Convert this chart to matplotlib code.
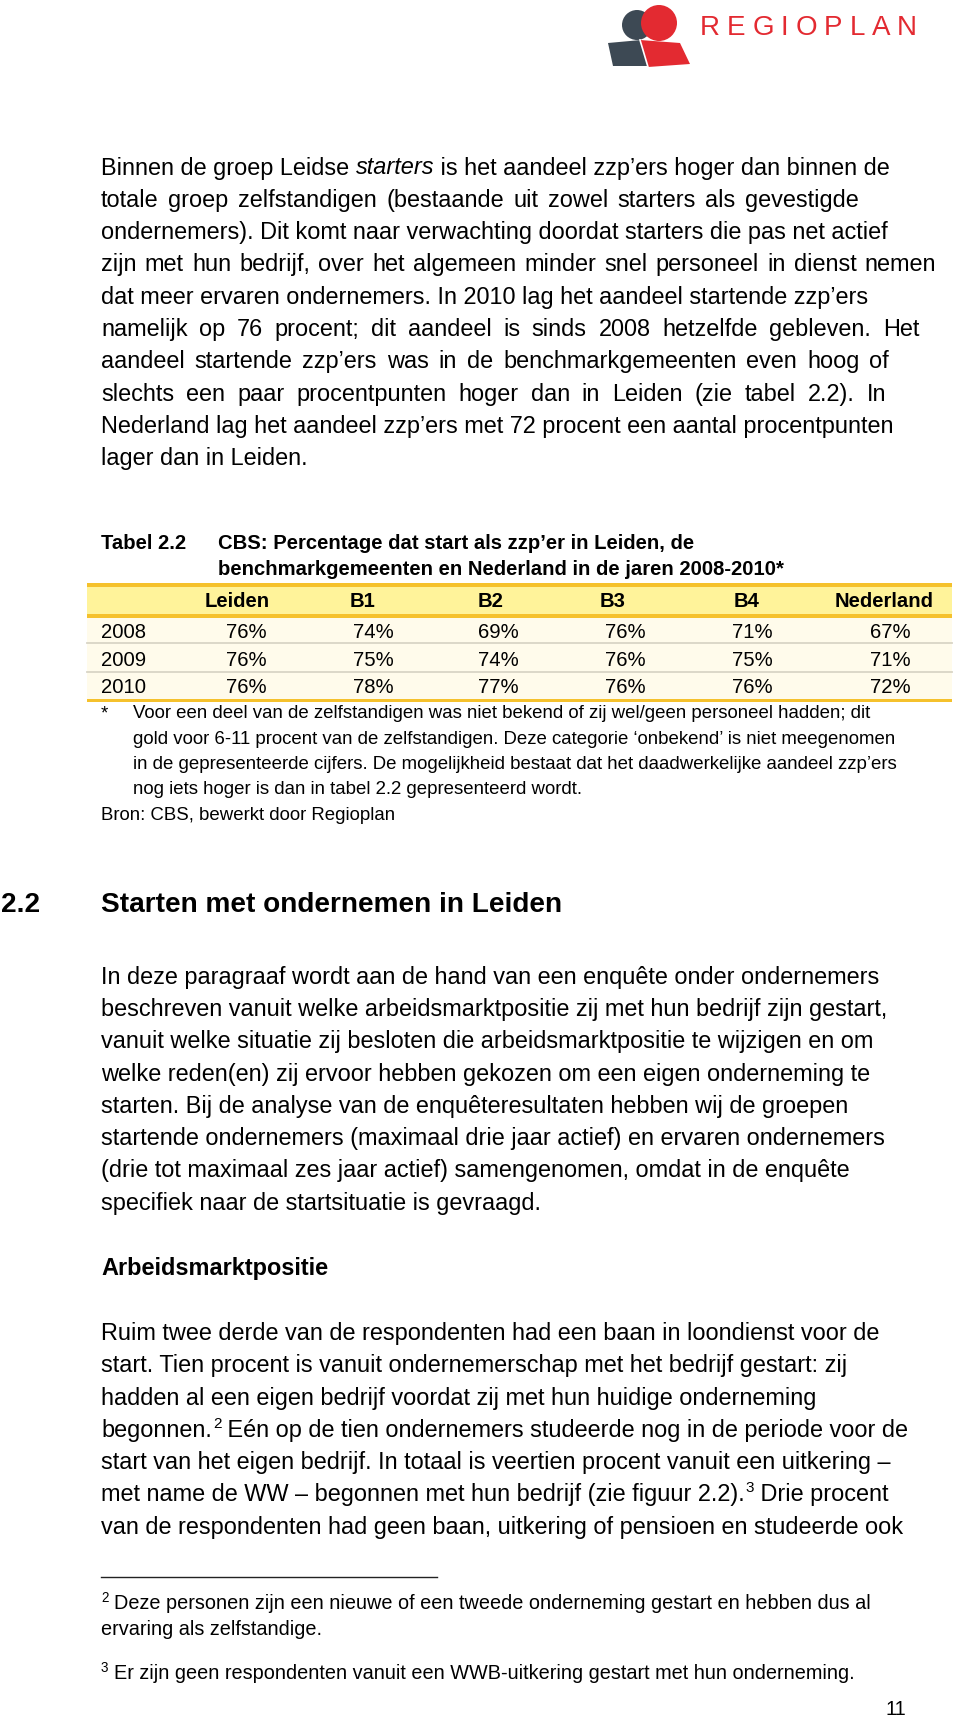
import re
import matplotlib.pyplot as plt
from matplotlib.patches import Rectangle, Circle, Polygon
from matplotlib.font_manager import FontProperties

plt.rcParams['font.family'] = ['Liberation Sans', 'DejaVu Sans']

W, H = 960, 1721

# ---- page content ----
PARA1 = [
    "Binnen de groep Leidse _starters_ is het aandeel zzp’ers hoger dan binnen de",
    "totale groep zelfstandigen (bestaande uit zowel starters als gevestigde",
    "ondernemers). Dit komt naar verwachting doordat starters die pas net actief",
    "zijn met hun bedrijf, over het algemeen minder snel personeel in dienst nemen",
    "dat meer ervaren ondernemers. In 2010 lag het aandeel startende zzp’ers",
    "namelijk op 76 procent; dit aandeel is sinds 2008 hetzelfde gebleven. Het",
    "aandeel startende zzp’ers was in de benchmarkgemeenten even hoog of",
    "slechts een paar procentpunten hoger dan in Leiden (zie tabel 2.2). In",
    "Nederland lag het aandeel zzp’ers met 72 procent een aantal procentpunten",
    "lager dan in Leiden.",
]
# right edge of the lines that are spread out in the original (px, None = natural)
PARA1_RIGHT = [None, 859, None, 936, None, 919, 889, 886, None, None]

TABLE_NUM = "Tabel 2.2"
TABLE_TITLE = [
    "CBS: Percentage dat start als zzp’er in Leiden, de",
    "benchmarkgemeenten en Nederland in de jaren 2008-2010*",
]
COLUMNS = ["Leiden", "B1", "B2", "B3", "B4", "Nederland"]
YEARS = ["2008", "2009", "2010"]
VALUES = [
    [76, 74, 69, 76, 71, 67],
    [76, 75, 74, 76, 75, 71],
    [76, 78, 77, 76, 76, 72],
]
NOTE = [
    "Voor een deel van de zelfstandigen was niet bekend of zij wel/geen personeel hadden; dit",
    "gold voor 6-11 procent van de zelfstandigen. Deze categorie ‘onbekend’ is niet meegenomen",
    "in de gepresenteerde cijfers. De mogelijkheid bestaat dat het daadwerkelijke aandeel zzp’ers",
    "nog iets hoger is dan in tabel 2.2 gepresenteerd wordt.",
]
SOURCE = "Bron: CBS, bewerkt door Regioplan"

HEAD_NUM = "2.2"
HEADING = "Starten met ondernemen in Leiden"
PARA2 = [
    "In deze paragraaf wordt aan de hand van een enquête onder ondernemers",
    "beschreven vanuit welke arbeidsmarktpositie zij met hun bedrijf zijn gestart,",
    "vanuit welke situatie zij besloten die arbeidsmarktpositie te wijzigen en om",
    "welke reden(en) zij ervoor hebben gekozen om een eigen onderneming te",
    "starten. Bij de analyse van de enquêteresultaten hebben wij de groepen",
    "startende ondernemers (maximaal drie jaar actief) en ervaren ondernemers",
    "(drie tot maximaal zes jaar actief) samengenomen, omdat in de enquête",
    "specifiek naar de startsituatie is gevraagd.",
]
SUBHEAD = "Arbeidsmarktpositie"
PARA3 = [
    "Ruim twee derde van de respondenten had een baan in loondienst voor de",
    "start. Tien procent is vanuit ondernemerschap met het bedrijf gestart: zij",
    "hadden al een eigen bedrijf voordat zij met hun huidige onderneming",
    "begonnen.^2^ Eén op de tien ondernemers studeerde nog in de periode voor de",
    "start van het eigen bedrijf. In totaal is veertien procent vanuit een uitkering –",
    "met name de WW – begonnen met hun bedrijf (zie figuur 2.2).^3^ Drie procent",
    "van de respondenten had geen baan, uitkering of pensioen en studeerde ook",
]
FOOTNOTES = [
    ("2", ["Deze personen zijn een nieuwe of een tweede onderneming gestart en hebben dus al",
           "ervaring als zelfstandige."]),
    ("3", ["Er zijn geen respondenten vanuit een WWB-uitkering gestart met hun onderneming."]),
]
PAGE = "11"
LOGO = "REGIOPLAN"

# ---- style ----
RED = "#e32a31"
DARK = "#3d4954"
GOLD = "#f5c12c"
HEAD_FILL = "#fff39a"
ROW_FILL = "#fffbeb"
SEP = "#d9d5c6"
BODY = 16.9
TAB = 14.6
NOTE_FS = 13.4
FOOT_FS = 14.3
LEFT = 101
STEP = 32.3

fig = plt.figure(figsize=(W / 100, H / 100), dpi=100)
ax = fig.add_axes([0, 0, 1, 1])
ax.set_xlim(0, W)
ax.set_ylim(H, 0)
ax.axis("off")
renderer = fig.canvas.get_renderer()


def advance(s, size, style="normal", weight="normal"):
    prop = FontProperties(family=plt.rcParams['font.family'], size=size, style=style, weight=weight)
    w1 = renderer.get_text_width_height_descent("|" + s + "|", prop, ismath=False)[0]
    w0 = renderer.get_text_width_height_descent("||", prop, ismath=False)[0]
    return w1 - w0


def draw_line(x, y, line, size, weight="normal"):
    for part in re.split(r"(_[^_]+_|\^[^\^]+\^)", line):
        if not part:
            continue
        if part.startswith("_"):
            txt = part[1:-1]
            ax.text(x, y, txt, fontsize=size, style="italic", weight=weight, va="baseline")
            x += advance(txt, size, style="italic", weight=weight)
        elif part.startswith("^"):
            txt = part[1:-1]
            ax.text(x + 1, y - size * 0.55, txt, fontsize=size * 0.65, va="baseline")
            x += advance(txt, size * 0.65) + 1
        else:
            ax.text(x, y, part, fontsize=size, weight=weight, va="baseline")
            x += advance(part, size, weight=weight)


def draw_spread(x, y, line, size, right):
    # plain line with the word gaps widened so it ends at `right`
    words = line.split(" ")
    widths = [advance(w, size) for w in words]
    gap = (right - x - sum(widths)) / (len(words) - 1)
    for w, wd in zip(words, widths):
        ax.text(x, y, w, fontsize=size, va="baseline")
        x += wd + gap


# ---- logo ----
ax.add_patch(Polygon([(608, 43), (641, 40), (651, 66), (613, 66)], closed=True, color=DARK, lw=0))
ax.add_patch(Circle((637, 25), 15, color=DARK, lw=0))
ax.add_patch(Polygon([(640, 40), (680, 43), (690, 64), (648, 67)], closed=True, color=RED, lw=0))
ax.add_patch(Circle((659, 23), 18, color=RED, lw=0))
ax.plot([640, 648], [40, 67], color="white", lw=1.2)
lx = 700
for ch in LOGO:
    ax.text(lx, 35, ch, fontsize=20, color=RED, va="baseline")
    lx += advance(ch, 20) + 6.9

# ---- paragraph 1 ----
for i, (line, right) in enumerate(zip(PARA1, PARA1_RIGHT)):
    if right is None:
        draw_line(LEFT, 174.5 + i * STEP, line, BODY)
    else:
        draw_spread(LEFT, 174.5 + i * STEP, line, BODY, right)

# ---- table ----
ax.text(LEFT, 549, TABLE_NUM, fontsize=TAB, weight="bold", va="baseline")
for i, line in enumerate(TABLE_TITLE):
    ax.text(218, 549 + i * 26, line, fontsize=TAB, weight="bold", va="baseline")

tx0, tx1 = 87, 952
ax.add_patch(Rectangle((tx0, 586.7), tx1 - tx0, 27.6, color=HEAD_FILL, lw=0))
ax.add_patch(Rectangle((tx0, 617.7), tx1 - tx0, 81.3, color=ROW_FILL, lw=0))
for yy in (583.3, 614.3, 699):
    ax.add_patch(Rectangle((tx0, yy), tx1 - tx0, 3.4, color=GOLD, lw=0))
for yy in (643.3, 671.7):
    ax.plot([tx0, tx1], [yy, yy], color=SEP, lw=1.3)

head_x = [237.3, 362.5, 490.3, 612.5, 746.8, 884.2]
val_x = [246.7, 373.3, 498.2, 625.3, 752, 890.7]
row_y = [637.7, 665.7, 693.3]
for cx, name in zip(head_x, COLUMNS):
    ax.text(cx, 606.7, name, fontsize=TAB, weight="bold", ha="center", va="baseline")
for ry, year, vals in zip(row_y, YEARS, VALUES):
    ax.text(LEFT, ry, year, fontsize=TAB, va="baseline")
    for cx, v in zip(val_x, vals):
        ax.text(cx, ry, f"{v}%", fontsize=TAB, ha="center", va="baseline")

ax.text(LEFT, 718, "*", fontsize=NOTE_FS, va="baseline")
for i, line in enumerate(NOTE):
    ax.text(133, 718 + i * 25.5, line, fontsize=NOTE_FS, va="baseline")
ax.text(LEFT, 718 + 4 * 25.5, SOURCE, fontsize=NOTE_FS, va="baseline")

# ---- section 2.2 ----
ax.text(1, 912, HEAD_NUM, fontsize=20.2, weight="bold", va="baseline")
ax.text(LEFT, 912, HEADING, fontsize=20.2, weight="bold", va="baseline")
for i, line in enumerate(PARA2):
    draw_line(LEFT, 983.6 + i * STEP, line, BODY)

ax.text(LEFT, 1275, SUBHEAD, fontsize=BODY, weight="bold", va="baseline")
for i, line in enumerate(PARA3):
    draw_line(LEFT, 1340 + i * STEP, line, BODY)

# ---- footnotes ----
ax.plot([LEFT, 437], [1576.5, 1576.5], color="#222222", lw=1)
fy = [[1609, 1635], [1679]]
for (mark, lines), ys in zip(FOOTNOTES, fy):
    ax.text(LEFT, ys[0] - 7, mark, fontsize=FOOT_FS * 0.68, va="baseline")
    for line, y in zip(lines, ys):
        ax.text(114 if y == ys[0] else LEFT, y, line, fontsize=FOOT_FS, va="baseline")

ax.text(906, 1715, PAGE, fontsize=FOOT_FS, ha="right", va="baseline")

fig.savefig("out.png", dpi=100)
